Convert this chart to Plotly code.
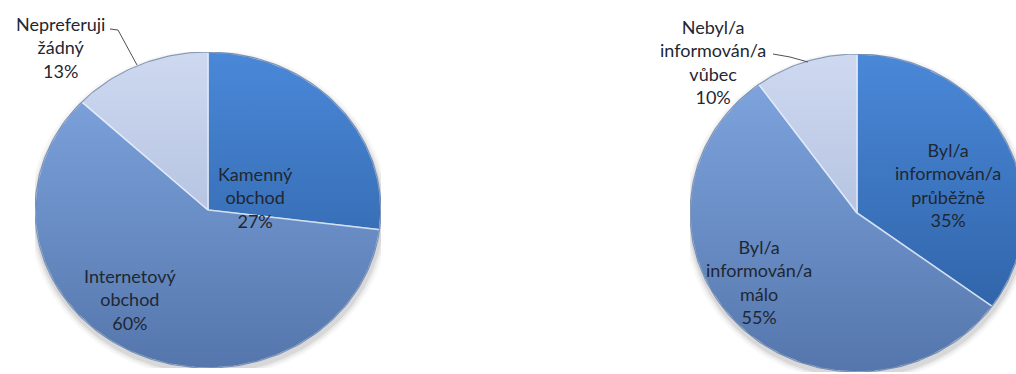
import numpy as np
import plotly.graph_objects as go

W, H = 1016, 374

# Data: shopping preference (left) and information level (right)
shop_labels = ["Kamenný<br>obchod", "Internetový<br>obchod", "Nepreferuji<br>žádný"]
shop_values = [27, 60, 13]

info_labels = ["Byl/a<br>informován/a<br>průběžně", "Byl/a<br>informován/a<br>málo",
               "Nebyl/a<br>informován/a<br>vůbec"]
info_values = [35, 55, 10]

# Slice fills (top colour, bottom colour) for the vertical shading
slice_colors = [
    ("rgb(74,136,216)", "rgb(42,92,158)"),
    ("rgb(130,168,226)", "rgb(84,118,172)"),
    ("rgb(206,217,240)", "rgb(160,176,212)"),
]

FONT = dict(family="Lato, 'Open Sans', sans-serif", size=18, color="#1f2733")


def px(x, y):
    """Pixel position -> paper coordinates."""
    return x / W, 1 - y / H


def wedge_traces(values, xa, ya):
    traces = []
    total = float(sum(values))
    start = 0.0
    for i, v in enumerate(values):
        frac0, frac1 = start / total, (start + v) / total
        start += v
        # clockwise from 12 o'clock
        th = np.radians(90 - 360 * np.linspace(frac0, frac1, 120))
        xs = np.concatenate([[0], np.cos(th), [0]])
        ys = np.concatenate([[0], np.sin(th), [0]])
        top, bot = slice_colors[i]
        traces.append(go.Scatter(
            x=xs, y=ys, mode="lines", fill="toself",
            fillgradient=dict(type="vertical", colorscale=[[0, bot], [1, top]],
                              start=-1, stop=1),
            line=dict(color="rgba(235,242,252,0.7)", width=1.6),
            hoverinfo="skip", showlegend=False, xaxis=xa, yaxis=ya))
    return traces


def shadow_traces(xa, ya):
    out = []
    th = np.linspace(0, 2 * np.pi, 200)
    for k, a in [(1.04, 0.05), (1.025, 0.08), (1.012, 0.12)]:
        out.append(go.Scatter(
            x=k * np.cos(th) + 0.005, y=k * np.sin(th) - 0.025, mode="lines",
            fill="toself", fillcolor=f"rgba(90,90,90,{a})", line=dict(width=0),
            hoverinfo="skip", showlegend=False, xaxis=xa, yaxis=ya))
    return out


def rim_trace(xa, ya):
    th = np.linspace(0, 2 * np.pi, 300)
    return go.Scatter(x=np.cos(th), y=np.sin(th), mode="lines",
                      line=dict(color="rgba(40,70,120,0.5)", width=1.2),
                      hoverinfo="skip", showlegend=False, xaxis=xa, yaxis=ya)


fig = go.Figure()
for t in shadow_traces("x", "y") + wedge_traces(shop_values, "x", "y") + [rim_trace("x", "y")]:
    fig.add_trace(t)
for t in shadow_traces("x2", "y2") + wedge_traces(info_values, "x2", "y2") + [rim_trace("x2", "y2")]:
    fig.add_trace(t)

# Pie extents in pixels: left ellipse centre (208,210) rx 173 ry 158; right centre (857,213) rx 167 ry 159
L = dict(cx=208, cy=210, rx=173, ry=158)
R = dict(cx=857, cy=213, rx=167, ry=159)

axis_off = dict(visible=False, showgrid=False, zeroline=False, fixedrange=True)
fig.update_layout(
    width=W, height=H, margin=dict(l=0, r=0, t=0, b=0),
    paper_bgcolor="white", plot_bgcolor="white",
    xaxis=dict(axis_off, domain=[(L["cx"] - L["rx"]) / W, (L["cx"] + L["rx"]) / W], range=[-1, 1]),
    yaxis=dict(axis_off, domain=[1 - (L["cy"] + L["ry"]) / H, 1 - (L["cy"] - L["ry"]) / H], range=[-1, 1]),
    xaxis2=dict(axis_off, domain=[(R["cx"] - R["rx"]) / W, 1], range=[-1, (W - R["cx"]) / R["rx"]]),
    yaxis2=dict(axis_off, domain=[max(0, 1 - (R["cy"] + R["ry"]) / H), 1 - (R["cy"] - R["ry"]) / H],
                range=[-1 + max(0, (R["cy"] + R["ry"]) - H) / R["ry"], 1]),
)

# Slice labels: name and share
label_pos_left = [(255, 197), (130, 299), (60, 47)]
label_pos_right = [(948, 185), (759, 282), (713, 62)]
for names, vals, pos in [(shop_labels, shop_values, label_pos_left),
                         (info_labels, info_values, label_pos_right)]:
    for name, v, (x, y) in zip(names, vals, pos):
        ax, ay = px(x, y)
        fig.add_annotation(x=ax, y=ay, xref="paper", yref="paper", showarrow=False,
                           xanchor="center", yanchor="middle",
                           text=f"{name}<br>{v}%", font=FONT, align="center")

# Leader lines for the small slices
for pts in [[(110, 29), (118, 30), (137, 65)], [(773, 54), (790, 57), (808, 62)]]:
    path = "M " + " L ".join(f"{px(x, y)[0]},{px(x, y)[1]}" for x, y in pts)
    fig.add_shape(type="path", path=path, xref="paper", yref="paper",
                  line=dict(color="#505050", width=1))

fig.write_html("out.html")
